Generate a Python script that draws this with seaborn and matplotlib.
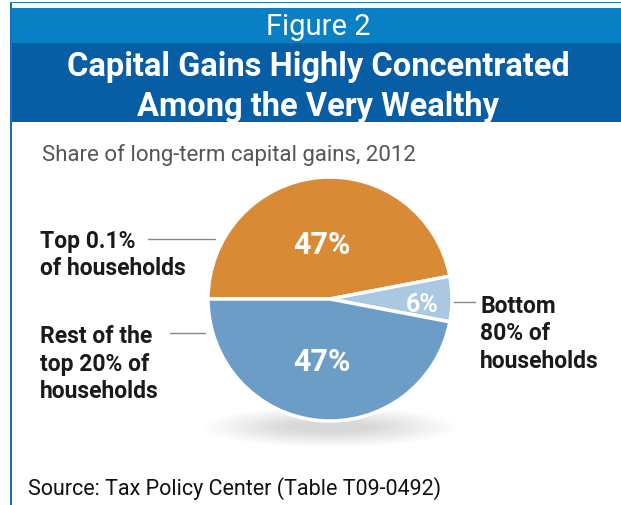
import matplotlib
matplotlib.use("Agg")
import matplotlib.pyplot as plt
import seaborn as sns
from matplotlib.patches import Rectangle, Ellipse

sns.set_theme(style="white")
plt.rcParams['font.family'] = ['Roboto', 'DejaVu Sans']

# data
groups = ["Top 0.1%\nof households", "Bottom\n80% of\nhouseholds", "Rest of the\ntop 20% of\nhouseholds"]
shares = [47, 6, 47]
share_labels = ["47%", "6%", "47%"]
colors = ["#d98a35", "#aac8e2", "#6b9dc6"]

title_top = "Figure 2"
title_main = "Capital Gains Highly Concentrated\nAmong the Very Wealthy"
subtitle = "Share of long-term capital gains, 2012"
source = "Source: Tax Policy Center (Table T09-0492)"

W, H = 621, 506
fig = plt.figure(figsize=(W / 100, H / 100), dpi=100)
ax = fig.add_axes([0, 0, 1, 1])


def py(y):
    # pixel y (from top) to data y
    return H - y


# header bands and border
ax.add_patch(Rectangle((10, py(4)), W, 1.5, color="#1b7cc2", lw=0))
ax.add_patch(Rectangle((10, py(44)), W, 35, color="#0a80c4", lw=0))
ax.add_patch(Rectangle((10, py(123)), W, 79, color="#075ea5", lw=0))
ax.add_patch(Rectangle((10, 0), 2, py(4), color="#1b6cb8", lw=0))

ax.text(318, py(27), title_top, color="white", fontsize=21, ha="center", va="center")
ax.text(318, py(87), title_main, color="white", fontsize=23.5, fontweight="bold",
        ha="center", va="center", linespacing=1.3)

ax.text(42, py(155), subtitle, color="#555555", fontsize=16, ha="left", va="center")

# shadow under pie
cx, cy, r = 330, py(300), 122
for i in range(14):
    ax.add_patch(Ellipse((cx, py(428)), 250 - i * 13, 40 - i * 2.4,
                         color="#a0a0a0", alpha=0.03, lw=0, zorder=1))

wedges, _ = ax.pie(shares, colors=colors, startangle=180, counterclock=False,
                   center=(cx, cy), radius=r,
                   wedgeprops=dict(edgecolor="white", linewidth=2.5, zorder=2))
ax.set_xlim(0, W)
ax.set_ylim(0, H)
ax.set_aspect("auto")
ax.axis("off")

# percent labels
pct_pos = [(322, 245), (422, 305), (322, 362)]
pct_size = [22, 18, 22]
for lab, (x, y), fs in zip(share_labels, pct_pos, pct_size):
    ax.text(x, py(y), lab, color="white", fontsize=fs, fontweight="bold",
            ha="center", va="center", zorder=3)

# group labels with leader lines
label_pos = [(40, 255, "left"), (480, 334, "left"), (40, 364, "left")]
lines = [((148, 215), 240), ((448, 475), 303), ((170, 205), 334)]
for lab, (x, y, ha), ((x0, x1), ly) in zip(groups, label_pos, lines):
    ax.text(x, py(y), lab, color="#1a1a1a", fontsize=16.5, fontweight="bold",
            ha=ha, va="center", linespacing=1.25)
    ax.plot([x0, x1], [py(ly), py(ly)], color="#888888", lw=1, zorder=1)

ax.text(28, py(489), source, color="#111111", fontsize=15.5, ha="left", va="center")

fig.savefig("out.png", dpi=100)
